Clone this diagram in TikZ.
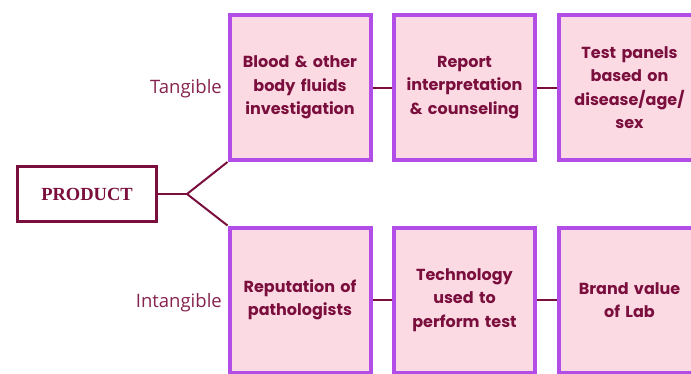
\documentclass[tikz,border=0pt]{standalone}
\usepackage{fontspec}
\usepackage{xcolor}
\usepackage{tikz}
\usetikzlibrary{positioning}

\newfontfamily\boxfont{Poppins}
\newfontfamily\sidefont{Open Sans}
\newfontfamily\headfont{Liberation Serif}

\definecolor{boxfill}{HTML}{FCDAE4}
\definecolor{boxedge}{HTML}{B24DE8}
\definecolor{wine}{HTML}{7A0E3C}
\definecolor{sidewine}{HTML}{86224E}

\begin{document}
\begin{tikzpicture}[x=1pt,y=-1pt,
  itembox/.style={draw=boxedge,fill=boxfill,line width=4pt,
    minimum width=141pt,minimum height=145pt,text width=134pt,align=center,
    text=wine,font=\boxfont\bfseries\fontsize{16}{23.5}\selectfont},
  headbox/.style={draw=wine,fill=white,line width=3pt,minimum width=139pt,
    minimum height=55pt,text=wine,font=\headfont\bfseries\fontsize{18.5}{20}\selectfont},
  sidelabel/.style={anchor=east,text=sidewine,inner sep=0pt,
    font=\sidefont\fontsize{18.5}{20}\selectfont},
  link/.style={draw=wine,line width=2pt}]
  \useasboundingbox (0,0) rectangle (691,373);
  \clip (0,0) rectangle (691,373);

  % root
  \node[headbox] (product) at (87,194) {PRODUCT};
  \coordinate (fork) at (187,194);

  % tangible row
  \node[itembox] (blood) at (300,87.5) {Blood \& other\\body fluids\\investigation};
  \node[itembox] (report) at (464.5,87.5) {Report\\interpretation\\\& counseling};
  \node[itembox] (panels) at (629.5,87.5) {Test panels\\based on\\disease/age/\\sex};

  % intangible row
  \node[itembox] (reput) at (300,300) {Reputation of\\pathologists};
  \node[itembox] (techno) at (464.5,300) {Technology\\used to\\perform test};
  \node[itembox] (brand) at (629.5,300) {Brand value\\of Lab};

  \node[sidelabel] (tang) at (222,88.5) {Tangible};
  \node[sidelabel] (intang) at (222,302.5) {Intangible};

  \draw[link] (product.east) -- (fork);
  \draw[link,line join=round] (blood.south west) -- (fork) -- (reput.north west);
  \draw[link] (blood.east) -- (report.west);
  \draw[link] (report.east) -- (panels.west);
  \draw[link] (reput.east) -- (techno.west);
  \draw[link] (techno.east) -- (brand.west);
\end{tikzpicture}
\end{document}
